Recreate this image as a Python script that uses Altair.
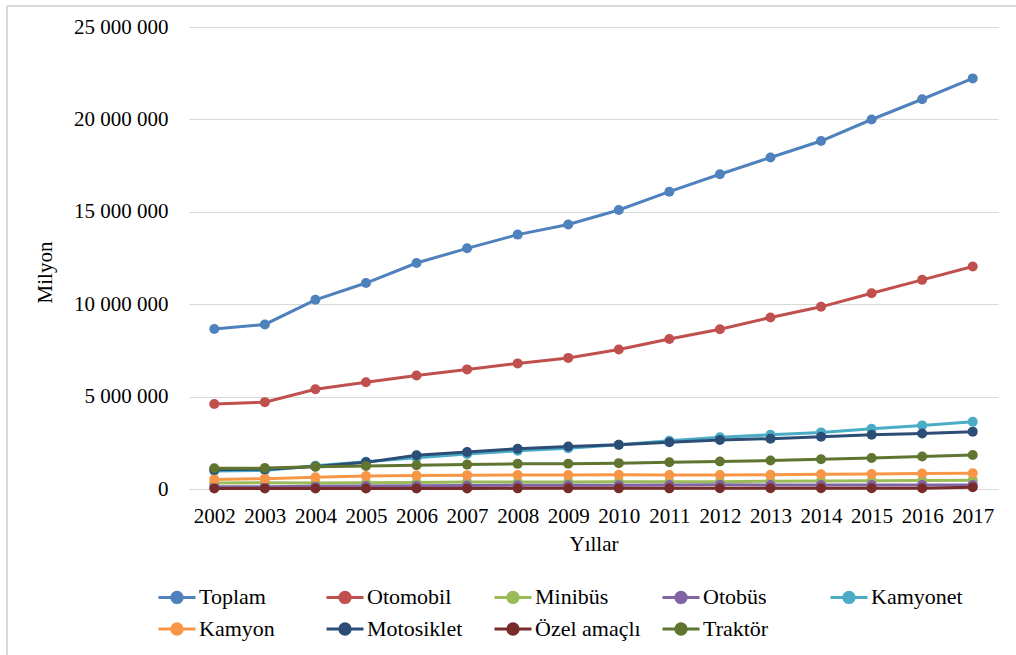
import altair as alt
import pandas as pd

years = [str(y) for y in range(2002, 2018)]
series = ["Toplam", "Otomobil", "Minibüs", "Otobüs", "Kamyonet",
          "Kamyon", "Motosiklet", "Özel amaçlı", "Traktör"]
colors = ["#4F81BD", "#C0504D", "#9BBB59", "#8064A2", "#4BACC6",
          "#F79646", "#2C4D75", "#772C2A", "#5F7530"]

toplam = [8655170, 8903843, 10236357, 11145826, 12227393, 13022945, 13765395, 14316700,
          15095603, 16089528, 17033413, 17939447, 18828721, 19994472, 21090424, 22218945]
otomobil = [4600140, 4700343, 5400440, 5772745, 6140992, 6472156, 6796629, 7093964,
            7544871, 8113111, 8648875, 9283923, 9857915, 10589337, 11317998, 12035978]
minibus = [328561, 338139, 318954, 338539, 357523, 372601, 383548, 384053,
           386973, 389435, 396119, 421848, 427264, 449213, 463933, 478618]
otobus = [120097, 123500, 152712, 163390, 175949, 189128, 199934, 201033,
          208510, 219906, 235949, 219885, 211200, 217056, 220361, 221885]
kamyonet = [978848, 1000650, 1259867, 1475060, 1695624, 1890459, 2066007, 2204951,
            2399038, 2611104, 2794606, 2933050, 3062479, 3255299, 3442483, 3642625]
kamyon = [520000, 560000, 630000, 700000, 730000, 750000, 755000, 760000,
          765000, 760000, 760000, 765000, 800000, 810000, 840000, 855000]
motosiklet = [1046907, 1073415, 1218677, 1441066, 1822831, 2003492, 2181383, 2303261,
              2389488, 2527190, 2657722, 2722826, 2828466, 2938364, 3003733, 3102800]
ozel = [28000, 29000, 30000, 31000, 32000, 33000, 34000, 34500,
        35000, 35500, 36000, 36500, 37000, 37500, 38000, 90000]
traktor = [1120000, 1130000, 1210000, 1250000, 1290000, 1320000, 1360000, 1370000,
           1400000, 1450000, 1490000, 1540000, 1610000, 1680000, 1760000, 1840000]

values = [toplam, otomobil, minibus, otobus, kamyonet, kamyon, motosiklet, ozel, traktor]

rows = []
for si, (name, vals) in enumerate(zip(series, values)):
    for y, v in zip(years, vals):
        rows.append({"Yıl": y, "Seri": name, "Değer": v, "order": si})
df = pd.DataFrame(rows)

FONT = "Liberation Serif, Times New Roman, serif"
W, H = 809, 462
LEFT, TOP = 189, 27

x_enc = alt.X("Yıl:O", scale=alt.Scale(type="point", padding=0.5),
              axis=alt.Axis(title="Yıllar", labelAngle=0, ticks=False, labelPadding=16,
                            domainColor="#D9D9D9", domainWidth=1, grid=False,
                            labelFontSize=21, titleFontSize=21, titleFontWeight="normal",
                            titlePadding=7))
y_enc = alt.Y("Değer:Q", scale=alt.Scale(domain=[0, 25000000], nice=False),
              axis=alt.Axis(title="Milyon", values=[0, 5000000, 10000000, 15000000, 20000000, 25000000],
                            labelExpr="replace(format(datum.value, ','), regexp(',', 'g'), ' ')",
                            ticks=False, domain=False, labelPadding=21, gridColor="#D9D9D9",
                            labelFontSize=21, titleFontSize=21, titleFontWeight="normal",
                            titleX=-144, titleY=245, titleAngle=-90, titleBaseline="middle"))
color_enc = alt.Color("Seri:N", scale=alt.Scale(domain=series, range=colors),
                      sort=series,
                      legend=alt.Legend(title=None, orient="none", legendX=157 - LEFT, legendY=577 - TOP,
                                        direction="horizontal",
                                        columns=5, gridAlign="all", columnPadding=15, rowPadding=-3,
                                        labelFontSize=22, labelFont=FONT, labelOffset=2,
                                        symbolType="M-1,0L1,0M0.28,0A0.28,0.28,0,1,1,-0.28,0A0.28,0.28,0,1,1,0.28,0Z",
                                        symbolSize=1369, symbolStrokeWidth=3))

lines = alt.Chart(df).mark_line(strokeWidth=3,
                                point=alt.OverlayMarkDef(filled=True, size=100)).encode(
    x=x_enc, y=y_enc, color=color_enc, order=alt.Order("order:Q"),
    detail="Seri:N"
)

frame_top = alt.Chart(pd.DataFrame({"k": [0]})).mark_rule(color="#D9D9D9", strokeWidth=2).encode(
    x=alt.value(7 - LEFT), x2=alt.value(1016 - LEFT + 5), y=alt.value(6 - TOP))
frame_left = alt.Chart(pd.DataFrame({"k": [0]})).mark_rule(color="#D9D9D9", strokeWidth=2).encode(
    x=alt.value(7 - LEFT), y=alt.value(6 - TOP), y2=alt.value(660 - TOP))

chart = alt.layer(frame_top, frame_left, lines).properties(
    width=W, height=H,
    autosize=alt.AutoSizeParams(type="none"),
    padding={"left": LEFT, "top": TOP, "right": 1016 - LEFT - W, "bottom": 655 - TOP - H},
    background="white"
).configure(font=FONT).configure_view(stroke=None).configure_axis(
    labelFont=FONT, titleFont=FONT, labelColor="#000000", titleColor="#000000"
).configure_legend(labelColor="#000000", labelFont=FONT, labelFontSize=22)

chart.save("out.html", embed_options={"renderer": "svg", "actions": False})
